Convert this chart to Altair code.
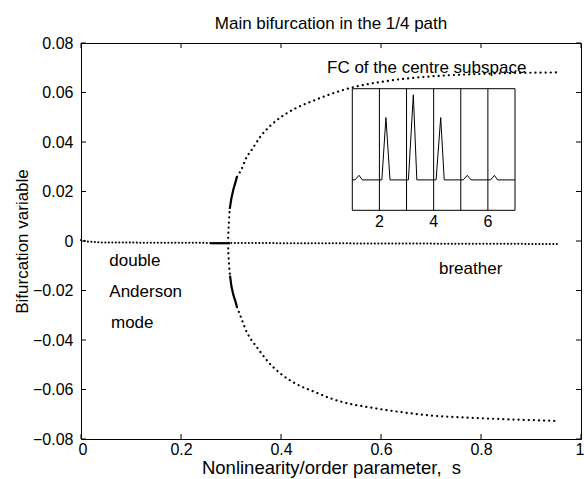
import altair as alt
import pandas as pd

FONT = "Liberation Sans"

# ---------------- main chart data ----------------
x_ticks = [0, 0.2, 0.4, 0.6, 0.8, 1.0]
y_ticks = [-0.08, -0.06, -0.04, -0.02, 0, 0.02, 0.04, 0.06, 0.08]

# trivial (breather / double Anderson mode) branch
mid_s = [0.0, 0.012, 0.04, 0.30, 0.60, 0.952]
mid_y = [0.0004, -0.0002, -0.0006, -0.0008, -0.0010, -0.0012]

# solid piece of the trivial branch near the bifurcation
mid_solid_s = [0.258, 0.298]
mid_solid_y = [-0.0009, -0.0009]

# pitchfork: dotted start of the two new branches
bif_up_s = [0.294, 0.2948, 0.2962, 0.2975]
bif_up_y = [-0.0008, 0.004, 0.009, 0.013]
bif_lo_s = [0.294, 0.2948, 0.2962, 0.298]
bif_lo_y = [-0.0008, -0.005, -0.010, -0.014]

# solid parts of the new branches
up_solid_s = [0.2975, 0.301, 0.305, 0.309, 0.312]
up_solid_y = [0.013, 0.0175, 0.021, 0.0238, 0.026]
lo_solid_s = [0.298, 0.301, 0.305, 0.309, 0.312]
lo_solid_y = [-0.014, -0.0185, -0.022, -0.0245, -0.0267]

# dotted outer branches
up_s = [0.312, 0.321, 0.331, 0.341, 0.36, 0.38, 0.398, 0.431, 0.465, 0.5,
        0.538, 0.6, 0.7, 0.8, 0.952]
up_y = [0.026, 0.029, 0.0338, 0.0367, 0.0425, 0.0468, 0.0498, 0.0538, 0.0567,
        0.0594, 0.0618, 0.0643, 0.0665, 0.0675, 0.0681]
lo_s = [0.312, 0.322, 0.331, 0.341, 0.351, 0.375, 0.398, 0.431, 0.465, 0.498,
        0.531, 0.565, 0.598, 0.7, 0.8, 0.952]
lo_y = [-0.0267, -0.0319, -0.0366, -0.040, -0.0427, -0.049, -0.0534, -0.0578,
        -0.0608, -0.0635, -0.0655, -0.0668, -0.0679, -0.0705, -0.0716, -0.0727]

# annotations
ann_text = ["double", "Anderson", "mode", "breather", "FC of the centre subspace"]
ann_s = [0.0566, 0.0566, 0.060, 0.716, 0.492]
ann_y = [-0.0081, -0.0205, -0.0331, -0.0113, 0.0699]

# ---------------- inset data ----------------
inset_x_lim = [1, 7]
inset_y_lim = [-1, 3]
inset_lines = [2, 3, 4, 5, 6]
inset_labels = [2, 4, 6]
sig_x = [1.0, 1.1, 1.25, 1.37, 2.09, 2.24, 2.39, 3.07, 3.25, 3.38,
         4.09, 4.26, 4.39, 5.09, 5.24, 5.38, 6.10, 6.24, 6.36, 7.0]
sig_y = [0, 0, 0.15, 0, 0, 2.05, 0, 0, 2.8, 0,
         0, 2.05, 0, 0, 0.15, 0, 0, 0.15, 0, 0]


def frame(branch, s, y):
    return pd.DataFrame({"branch": branch, "i": list(range(len(s))), "s": s, "y": y})


xs = alt.Scale(domain=[0, 1], nice=False, zero=False)
ys = alt.Scale(domain=[-0.08, 0.08], nice=False, zero=False)
XTITLE = "Nonlinearity/order parameter,\u00a0\u00a0s"
YTITLE = "Bifurcation variable"

x_axis = alt.Axis(values=x_ticks, format="~g", ticks=False, domain=False, grid=False,
                  labelPadding=2, labelFontSize=16, labelFont=FONT, labelColor="black",
                  labelFlush=True, labelFlushOffset=3, labelOverlap=False,
                  titleFont=FONT, titleFontSize=18.5, titleFontWeight="normal",
                  titleColor="black", titlePadding=1)
y_axis = alt.Axis(values=y_ticks, ticks=False, domain=False, grid=False,
                  labelExpr="datum.value == 0 ? '0' : format(datum.value, '.2f')",
                  labelPadding=8, labelFontSize=16, labelFont=FONT, labelColor="black",
                  labelFlush=False, labelOverlap=False,
                  titleFont=FONT, titleFontSize=17, titleFontWeight="normal",
                  titleColor="black", titlePadding=1)


def X(field):
    return alt.X(f"{field}:Q", scale=xs, axis=x_axis, title=XTITLE)


def Y(field):
    return alt.Y(f"{field}:Q", scale=ys, axis=y_axis, title=YTITLE)


mid_df = frame("mid", mid_s, mid_y)
outer_df = pd.concat([frame("upper", up_s, up_y), frame("lower", lo_s, lo_y),
                      frame("bif_up", bif_up_s, bif_up_y), frame("bif_lo", bif_lo_s, bif_lo_y)])
solid_df = pd.concat([frame("mid_solid", mid_solid_s, mid_solid_y),
                      frame("up_solid", up_solid_s, up_solid_y),
                      frame("lo_solid", lo_solid_s, lo_solid_y)])

mid_layer = alt.Chart(mid_df).mark_line(
    color="black", strokeWidth=2, strokeDash=[0.1, 3.4], strokeCap="round"
).encode(x=X("s"), y=Y("y"), order="i:Q")

outer_layer = alt.Chart(outer_df).mark_line(
    color="black", strokeWidth=2.2, strokeDash=[0.1, 5], strokeCap="round",
    interpolate="monotone"
).encode(x=X("s"), y=Y("y"), detail="branch:N", order="i:Q")

solid_layer = alt.Chart(solid_df).mark_line(
    color="black", strokeWidth=2.2
).encode(x=X("s"), y=Y("y"), detail="branch:N", order="i:Q")

xt_df = pd.DataFrame({"v": x_ticks})
yt_df = pd.DataFrame({"v": y_ticks})
tick_bottom = alt.Chart(xt_df).mark_rule(color="black", strokeWidth=1).encode(
    x=X("v"), y=alt.value(396), y2=alt.value(391))
tick_top = alt.Chart(xt_df).mark_rule(color="black", strokeWidth=1).encode(
    x=X("v"), y=alt.value(0), y2=alt.value(5))
tick_left = alt.Chart(yt_df).mark_rule(color="black", strokeWidth=1).encode(
    y=Y("v"), x=alt.value(0), x2=alt.value(5))
tick_right = alt.Chart(yt_df).mark_rule(color="black", strokeWidth=1).encode(
    y=Y("v"), x=alt.value(500), x2=alt.value(495))

ann_df = pd.DataFrame({"label": ann_text, "s": ann_s, "y": ann_y})
ann_layer = alt.Chart(ann_df).mark_text(
    align="left", baseline="middle", font=FONT, fontSize=17, color="black"
).encode(x=X("s"), y=Y("y"), text="label:N")

main = alt.layer(mid_layer, outer_layer, solid_layer, tick_bottom, tick_top,
                 tick_left, tick_right, ann_layer)

# ---------------- inset ----------------
ix = alt.Scale(domain=inset_x_lim, range=[271.3, 434], nice=False, zero=False)
iy = alt.Scale(domain=inset_y_lim, range=[167.3, 45.7], nice=False, zero=False)

box_df = pd.DataFrame({"x1": [inset_x_lim[0]], "x2": [inset_x_lim[1]],
                       "y1": [inset_y_lim[0]], "y2": [inset_y_lim[1]]})
box = alt.Chart(box_df).mark_rect(fill="white", stroke="black", strokeWidth=1).encode(
    x=alt.X("x1:Q", scale=ix, axis=None), x2="x2:Q",
    y=alt.Y("y1:Q", scale=iy, axis=None), y2="y2:Q")

lines_df = pd.DataFrame({"g": inset_lines, "lo": inset_y_lim[0], "hi": inset_y_lim[1]})
vlines = alt.Chart(lines_df).mark_rule(color="black", strokeWidth=1).encode(
    x=alt.X("g:Q", scale=ix, axis=None),
    y=alt.Y("lo:Q", scale=iy, axis=None), y2="hi:Q")

sig_df = pd.DataFrame({"i": list(range(len(sig_x))), "x": sig_x, "y": sig_y})
signal = alt.Chart(sig_df).mark_line(color="black", strokeWidth=1).encode(
    x=alt.X("x:Q", scale=ix, axis=None), y=alt.Y("y:Q", scale=iy, axis=None), order="i:Q")

lab_df = pd.DataFrame({"t": inset_labels, "b": inset_y_lim[0],
                       "txt": [str(v) for v in inset_labels]})
labels = alt.Chart(lab_df).mark_text(
    baseline="top", dy=4, font=FONT, fontSize=16, color="black"
).encode(x=alt.X("t:Q", scale=ix, axis=None), y=alt.Y("b:Q", scale=iy, axis=None),
         text="txt:N")

inset = alt.layer(box, vlines, signal, labels)

chart = alt.layer(main, inset).resolve_scale(
    x="independent", y="independent"
).properties(
    width=500, height=396,
    autosize=alt.AutoSizeParams(type="none"),
    padding={"left": 81, "top": 43, "right": 3, "bottom": 40},
    title=alt.TitleParams("Main bifurcation in the 1/4 path", font=FONT, fontSize=17,
                          fontWeight="normal", color="black", anchor="middle", offset=2),
).configure_view(stroke="black", strokeWidth=1)

chart.save("out.html", embed_options={"renderer": "svg", "actions": False})
